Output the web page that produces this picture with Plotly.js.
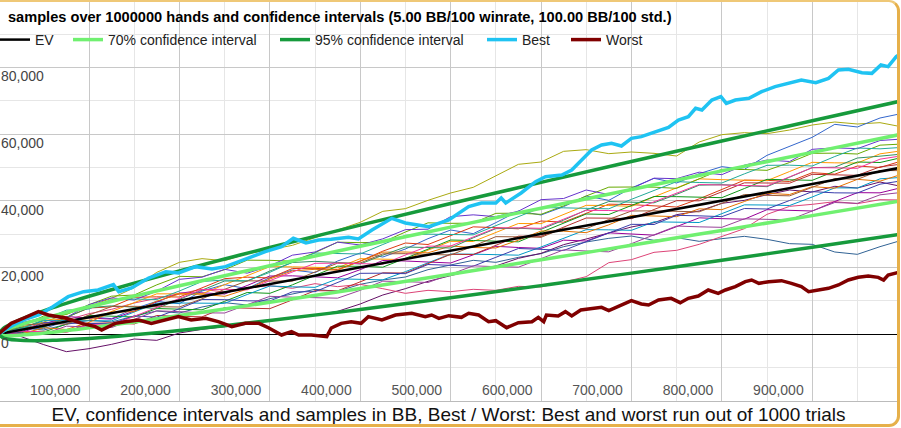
<!DOCTYPE html>
<html>
<head>
<meta charset="utf-8">
<script src="https://cdn.plot.ly/plotly-3.0.1.min.js"></script>
<style>
  html, body { margin: 0; padding: 0; background: #fff; overflow: hidden; }
  #chart { position: absolute; left: 0; top: 0; width: 901px; height: 428px; }
  /* golden rounded frame, left side falls outside the picture */
  #frame {
    position: absolute; left: -20px; top: 0; width: 920px; height: 427px;
    box-sizing: border-box; border: 3px solid #e6b04a; border-top: 2px solid #efc877;
    border-radius: 11px; pointer-events: none;
  }
</style>
</head>
<body>
<div id="chart"></div>
<div id="frame"></div>
<script>
// hands axis shared by the thin sample runs
const hands = [0, 25000, 50000, 75000, 100000, 125000, 150000, 175000, 200000, 225000,
  250000, 275000, 300000, 325000, 350000, 375000, 400000, 425000, 450000, 475000,
  500000, 525000, 550000, 575000, 600000, 625000, 650000, 675000, 700000, 725000,
  750000, 775000, 800000, 825000, 850000, 875000, 900000, 925000, 950000, 975000, 1000000];

// EV and confidence bands
const ciHands = [0, 5000, 10000, 20000, 40000, 60000, 80000, 100000, 150000, 200000,
  250000, 300000, 400000, 500000, 600000, 700000, 800000, 900000, 1000000];
const ev = [0, 250, 500, 1000, 2000, 3000, 4000, 5000, 7500, 10000,
  12500, 15000, 20000, 25000, 30000, 35000, 40000, 45000, 50000];
const ci70Upper = [0, 957, 1500, 2414, 4000, 5449, 6828, 8162, 11373, 14472,
  17500, 20477, 26325, 32071, 37746, 43367, 48944, 54487, 60000];
const ci70Lower = [0, -457, -500, -414, 0, 551, 1172, 1838, 3627, 5528,
  7500, 9523, 13675, 17929, 22254, 26633, 31056, 35513, 40000];
const ci95Upper = [0, 1664, 2500, 3828, 6000, 7898, 9656, 11324, 15246, 18944,
  22500, 25954, 32650, 39142, 45492, 51734, 57888, 63974, 70000];
const ci95Lower = [0, -1164, -1500, -1828, -2000, -1898, -1656, -1324, -246, 1056,
  2500, 4046, 7350, 10858, 14508, 18266, 22112, 26026, 30000];

// best run
const bestHands = [0, 15000, 30000, 45000, 60000, 77000, 94000, 110000, 127000, 133000,
  147000, 166000, 185000, 199000, 218000, 236000, 251000, 265000, 280000, 295000,
  313000, 326000, 340000, 354000, 368000, 387000, 398000, 413000, 435000, 450000,
  476000, 498000, 520000, 534000, 550000, 556000, 561000, 578000, 594000, 605000,
  623000, 634000, 645000, 656000, 667000, 678000, 689000, 700000, 711000, 722000,
  730000, 741000, 752000, 763000, 771000, 778000, 789000, 799000, 805000, 815000,
  830000, 844000, 859000, 874000, 888000, 904000, 918000, 929000, 940000, 955000,
  966000, 976000, 984000, 993000, 1000000];
const bestValues = [0, 2500, 4500, 5800, 8200, 11200, 12700, 13200, 14800, 12700,
  13800, 16800, 18700, 18300, 20200, 19500, 20200, 21700, 23200, 24700,
  26200, 28700, 27300, 28200, 28400, 29000, 28500, 31200, 34700, 33300,
  32200, 34200, 38200, 39300, 39300, 40800, 39300, 42300, 45700, 47200,
  47700, 49200, 52200, 55200, 56700, 57200, 56400, 58700, 59200, 60200,
  61200, 62000, 64200, 65200, 67700, 67200, 70200, 71200, 69200, 70200,
  70700, 72700, 74200, 75200, 76200, 75400, 76700, 79200, 79400, 78400,
  78200, 80700, 80200, 83200, 84500];

// worst run
const worstHands = [0, 14000, 28000, 44000, 55000, 74000, 92000, 107000, 114000, 129000,
  140000, 155000, 169000, 185000, 199000, 213000, 229000, 243000, 258000, 273000,
  288000, 299000, 313000, 324000, 332000, 346000, 363000, 368000, 379000, 390000,
  401000, 409000, 424000, 439000, 457000, 472000, 479000, 487000, 498000, 512000,
  520000, 531000, 542000, 550000, 562000, 575000, 590000, 597000, 603000, 606000,
  619000, 627000, 634000, 644000, 656000, 667000, 675000, 686000, 700000, 711000,
  719000, 730000, 744000, 754000, 763000, 774000, 785000, 796000, 804000, 815000,
  826000, 833000, 841000, 852000, 866000, 877000, 888000, 896000, 907000, 918000,
  929000, 940000, 951000, 962000, 973000, 979000, 984000, 993000, 1000000];
const worstValues = [0, 3200, 4800, 6700, 5700, 4800, 3200, 2200, 1200, 3200,
  3700, 4200, 3200, 4200, 5200, 4200, 4700, 3700, 2200, 3200,
  3200, 1800, -300, 700, -300, -300, -800, 1800, 3200, 3700,
  3200, 5200, 4200, 5700, 6200, 5200, 5700, 4700, 5500, 5000,
  6200, 5700, 3700, 4000, 1900, 3400, 3700, 5000, 3700, 5700,
  5400, 6700, 5400, 7200, 7700, 8000, 7000, 8200, 10000, 9000,
  8700, 10200, 10700, 9400, 10700, 11400, 13200, 12200, 13200, 14200,
  15700, 16200, 15200, 15700, 16000, 15200, 14200, 12700, 13200, 13700,
  14700, 16200, 17000, 17400, 17000, 16200, 17700, 18400, 18800];

// thin sample runs (one value every 25,000 hands)
const sampleA = [0, 2100, 3600, 5900, 8400, 10700, 13900, 18500, 21500, 22600, 22000, 24100, 25300, 26600, 28900, 31200, 33500, 36800, 37600, 40100, 42300, 44000, 47500, 50900, 51600, 54800, 55300, 54100, 54600, 54200, 53400, 57600, 59800, 60400, 60100, 61200, 62700, 63600, 63000, 63400, 62100];
const sampleB = [0, 1900, 1600, 3900, 5200, 4600, 7600, 9800, 9100, 12900, 14800, 13600, 16900, 19200, 18400, 21900, 24300, 23100, 25500, 28600, 31200, 30100, 33400, 36900, 35700, 38200, 41400, 40100, 43800, 46700, 45300, 48100, 50200, 49400, 53600, 56200, 59000, 62900, 62100, 64800, 66200];
const sampleC = [0, 1800, 1200, 2900, 4100, 3600, 5400, 6900, 6300, 8100, 9400, 8700, 10600, 11900, 13400, 12800, 14900, 16200, 17100, 19300, 20800, 22100, 21500, 23000, 24100, 26200, 27600, 28700, 29400, 28100, 28900, 27800, 28600, 29300, 28400, 27100, 26900, 24600, 23900, 26200, 28200];
const sampleD = [0, -800, -3200, -5300, -4400, -3100, -1500, -1900, 300, 1400, 2200, 3300, 3900, 4800, 5600, 6800, 9000, 11700, 13600, 15800, 17600, 19200, 20400, 22700, 24200, 26800, 28500, 30400, 32100, 33400, 35800, 36900, 39200, 40100, 41800, 43200, 42600, 44300, 43800, 45600, 44200];
const sampleE = [0, 1500, 3300, 4200, 6100, 7400, 9300, 10800, 12100, 13400, 12600, 13900, 14500, 13700, 15100, 14200, 14900, 13600, 12200, 13100, 12700, 13400, 13100, 14300, 14100, 15600, 17200, 21400, 22300, 24500, 25100, 26900, 29300, 31600, 35900, 38300, 38900, 39700, 39100, 40300, 40200];
const sampleF = [0, 350, 2900, 5250, 4800, 4450, 6900, 9650, 12300, 12350, 12000, 14550, 17400, 17450, 17200, 16850, 19300, 22050, 21900, 21550, 21300, 23750, 26300, 25950, 25700, 28150, 27900, 30350, 29900, 29650, 32200, 34850, 34600, 34450, 37300, 37050, 36900, 39750, 42400, 42350, 44000];
const sampleG = [0, 1850, 2200, 4950, 7800, 8150, 11000, 11150, 11100, 13850, 16600, 17050, 16800, 19650, 19700, 19350, 21900, 24850, 27300, 26850, 29500, 32150, 31900, 31550, 33900, 33550, 36200, 38950, 38800, 38350, 38100, 40550, 43300, 46150, 46100, 45750, 48400, 47950, 50400, 49950, 52000];
const sampleH = [0, 1750, 4200, 4350, 4100, 6650, 9400, 12050, 12100, 12050, 14800, 17550, 20200, 20150, 20000, 19850, 22600, 22550, 22300, 25150, 27800, 27750, 30500, 33150, 33100, 35950, 38600, 38550, 38300, 41150, 43900, 46550, 46300, 46150, 46000, 48750, 51500, 51350, 51300, 54050, 55000];
const sampleI = [0, 550, 600, 2950, 5600, 5350, 5100, 7650, 7400, 7250, 9800, 12450, 12200, 14750, 17600, 20350, 20300, 20050, 22700, 25450, 28200, 28050, 27900, 27650, 30500, 33250, 36000, 35850, 38600, 41250, 41200, 41050, 40900, 43650, 46400, 46250, 46100, 48850, 51600, 51450, 53000];
const sampleJ = [0, 1650, 4000, 4050, 3900, 3950, 6600, 9250, 9300, 9250, 9200, 11850, 14400, 14150, 14000, 16550, 16400, 16250, 18700, 21350, 24000, 23950, 23800, 23650, 26100, 28650, 31300, 31250, 31100, 33650, 33500, 33450, 36100, 38750, 38700, 38550, 41100, 43850, 43800, 46550, 47000];
const sampleK = [0, 2450, 5400, 5850, 8800, 11350, 11700, 14750, 17300, 17150, 19300, 22150, 22100, 21850, 24400, 27550, 27400, 27550, 30600, 33350, 33200, 33250, 36200, 36250, 35900, 38450, 41400, 44050, 44100, 44050, 43700, 46650, 49400, 49350, 49100, 51450, 54200, 54250, 54000, 56650, 57000];
const sampleL = [0, 750, 800, 650, 3200, 3350, 3000, 5550, 5300, 5150, 7900, 7850, 7600, 10250, 13000, 12950, 15700, 18350, 18300, 21150, 23900, 23850, 26600, 29350, 29300, 32050, 34800, 34750, 34600, 37350, 40000, 39950, 42700, 45350, 45300, 45250, 47900, 47850, 47600, 50150, 51000];
const sampleM = [0, 3350, 4900, 4950, 8800, 10850, 10200, 12850, 16400, 17050, 19400, 18250, 20400, 23650, 24600, 27550, 26700, 28550, 31300, 31450, 35200, 35750, 35200, 36850, 40300, 40650, 43200, 41850, 43600, 46750, 46600, 48550, 47800, 50650, 52200, 51750, 55400, 55850, 55600, 58050, 58500];
const sampleN = [0, -50, 1900, 1350, 3500, 6550, 6700, 9850, 12000, 11950, 11300, 13450, 16500, 18950, 19400, 19150, 21800, 24550, 24600, 24350, 26400, 25950, 25800, 28150, 30900, 30850, 30400, 32750, 35600, 35450, 35200, 37550, 37300, 39750, 42200, 41850, 44200, 43750, 46400, 45850, 48000];
const sampleO = [0, 2050, 2000, 5050, 7900, 8450, 8100, 7650, 10400, 13150, 15900, 15850, 18900, 21450, 21800, 21450, 21000, 23650, 26100, 25950, 25800, 28850, 31600, 31750, 31400, 34150, 37200, 39750, 39600, 39350, 41900, 44650, 44800, 44450, 44200, 47050, 49900, 50050, 52800, 53350, 54000];
const sampleP = [0, 650, 3400, 3350, 3100, 3050, 5400, 5050, 7600, 10350, 10300, 9950, 9900, 12650, 12700, 15450, 18200, 18250, 18100, 20850, 20700, 20350, 23000, 25650, 25400, 25050, 27700, 30250, 32900, 32850, 35600, 35450, 35200, 37650, 37500, 40050, 42700, 42350, 42300, 44950, 46000];
const sampleQ = [0, 1550, 4300, 7150, 7500, 10350, 10500, 10350, 12900, 15750, 16200, 15950, 18500, 21550, 24300, 24150, 24000, 26850, 29600, 29950, 29800, 29750, 32500, 35150, 37900, 37850, 37600, 37550, 40400, 43150, 45700, 45450, 45300, 48050, 50600, 50650, 50400, 53250, 55800, 55550, 56000];
const sampleR = [0, 150, 0, 2350, 2100, 1950, 4400, 6950, 6700, 6350, 6300, 8750, 11300, 11050, 10900, 10750, 13100, 15850, 15700, 15450, 17900, 20450, 20200, 20050, 22600, 25250, 24900, 24650, 27100, 29750, 32400, 32150, 32000, 34550, 34300, 34250, 36900, 39450, 39200, 41750, 42500];
const sampleS = [0, 2650, 3100, 2950, 5700, 8250, 8300, 8150, 8100, 10550, 13400, 15950, 16000, 15850, 18600, 21250, 21300, 24050, 24100, 23950, 23700, 26350, 29200, 29150, 29000, 31750, 31600, 34350, 36900, 36950, 36800, 36650, 39200, 41850, 41600, 41450, 44000, 46650, 46400, 49050, 49000];
const sampleT = [0, 850, 700, 450, 2900, 2650, 5300, 7950, 10700, 13350, 13400, 13250, 16000, 18650, 21200, 21250, 21100, 20950, 23700, 26350, 26400, 29150, 31800, 31850, 31700, 34450, 37100, 37050, 36900, 39650, 42300, 44850, 44700, 44550, 44400, 47150, 49900, 49850, 49700, 52450, 53500];

const samples = [sampleA, sampleB, sampleC, sampleD, sampleE, sampleF, sampleG, sampleH, sampleI, sampleJ,
  sampleK, sampleL, sampleM, sampleN, sampleO, sampleP, sampleQ, sampleR, sampleS, sampleT];
const sampleColors = ['#aaaa11', '#3366cc', '#316395', '#651067', '#dd4477', '#990099', '#dc3912', '#ff9900', '#109618', '#0099c6',
  '#66aa00', '#b82e2e', '#6633cc', '#e67300', '#329262', '#3b3eac', '#22aa99', '#994499', '#9c5935', '#f4359e'];

const xTicks = [100000, 200000, 300000, 400000, 500000, 600000, 700000, 800000, 900000];
const yTicks = [0, 20000, 40000, 60000, 80000];

const titleText = 'samples over 1000000 hands and confidence intervals (5.00 BB/100 winrate, 100.00 BB/100 std.)';
const captionText = 'EV, confidence intervals and samples in BB, Best / Worst: Best and worst run out of 1000 trials';

const light = '#70f070';
const dark = '#169a3c';

let data = [];

samples.forEach((values, i) => {
  data.push({
    x: hands, y: values, type: 'scatter', mode: 'lines',
    line: { color: sampleColors[i], width: 1 },
    showlegend: false, hoverinfo: 'skip',
  });
});

// legendwidth spaces the legend entries like the original
data.push({ x: ciHands, y: ev, mode: 'lines', name: 'EV', legendwidth: 33,
  line: { color: '#000', width: 2.5 } });
data.push({ x: ciHands, y: ci70Upper, mode: 'lines', name: '70% confidence interval', legendwidth: 167,
  line: { color: light, width: 3.5, shape: 'spline' } });
data.push({ x: ciHands, y: ci70Lower, mode: 'lines', showlegend: false,
  line: { color: light, width: 3.5, shape: 'spline' } });
data.push({ x: ciHands, y: ci95Upper, mode: 'lines', name: '95% confidence interval', legendwidth: 167,
  line: { color: dark, width: 3.5, shape: 'spline' } });
data.push({ x: ciHands, y: ci95Lower, mode: 'lines', showlegend: false,
  line: { color: dark, width: 3.5, shape: 'spline' } });
data.push({ x: bestHands, y: bestValues, mode: 'lines', name: 'Best', legendwidth: 44,
  line: { color: '#1fc3f2', width: 3.5 } });
data.push({ x: worstHands, y: worstValues, mode: 'lines', name: 'Worst', legendwidth: 50,
  line: { color: '#800000', width: 3.5 } });

const layout = {
  width: 901,
  height: 428,
  margin: { l: 0, r: 4, t: 1, b: 27, pad: 0 },
  paper_bgcolor: '#ffffff',
  plot_bgcolor: '#ffffff',
  font: { family: 'Liberation Sans, Arial, sans-serif', size: 14, color: '#444' },
  title: {
    text: '<b>' + titleText + '</b>',
    font: { size: 14.6, color: '#000' },
    xref: 'container', x: 8 / 901, xanchor: 'left',
    yref: 'container', y: 1 - 17 / 428, yanchor: 'middle',
  },
  showlegend: true,
  legend: {
    orientation: 'h',
    x: 0, xanchor: 'left',
    y: 0.9025, yanchor: 'middle',
    indentation: -5,
    bgcolor: 'rgba(0,0,0,0)',
    font: { size: 14, color: '#222' },
    traceorder: 'normal',
  },
  xaxis: {
    range: [1550, 993800],
    tickvals: xTicks,
    tickformat: ',',
    ticks: '',
    ticklabelposition: 'inside left',
    ticklabelshift: -8,
    tickfont: { size: 14, color: '#555' },
    showgrid: true,
    gridcolor: '#c8c8c8',
    minor: { dtick: 50000, tick0: 0, showgrid: true, gridcolor: '#e6e6e6' },
    zeroline: false,
    showline: true,
    linecolor: '#bbbbbb',
    automargin: false,
    title: { text: captionText, font: { size: 19, color: '#111' }, standoff: 10 },
  },
  yaxis: {
    range: [-20100, 99900],
    tickvals: yTicks,
    tickformat: ',',
    ticks: '',
    ticklabelposition: 'inside',
    ticklabelshift: 9,
    ticklabelstandoff: -2,
    tickfont: { size: 14, color: '#444' },
    showgrid: true,
    gridcolor: '#c8c8c8',
    minor: { dtick: 10000, tick0: 0, showgrid: true, gridcolor: '#e6e6e6' },
    zeroline: true,
    zerolinecolor: '#000000',
    zerolinewidth: 1,
    automargin: false,
  },
};

Plotly.newPlot('chart', data, layout, { staticPlot: true, displayModeBar: false });
</script>
</body>
</html>
